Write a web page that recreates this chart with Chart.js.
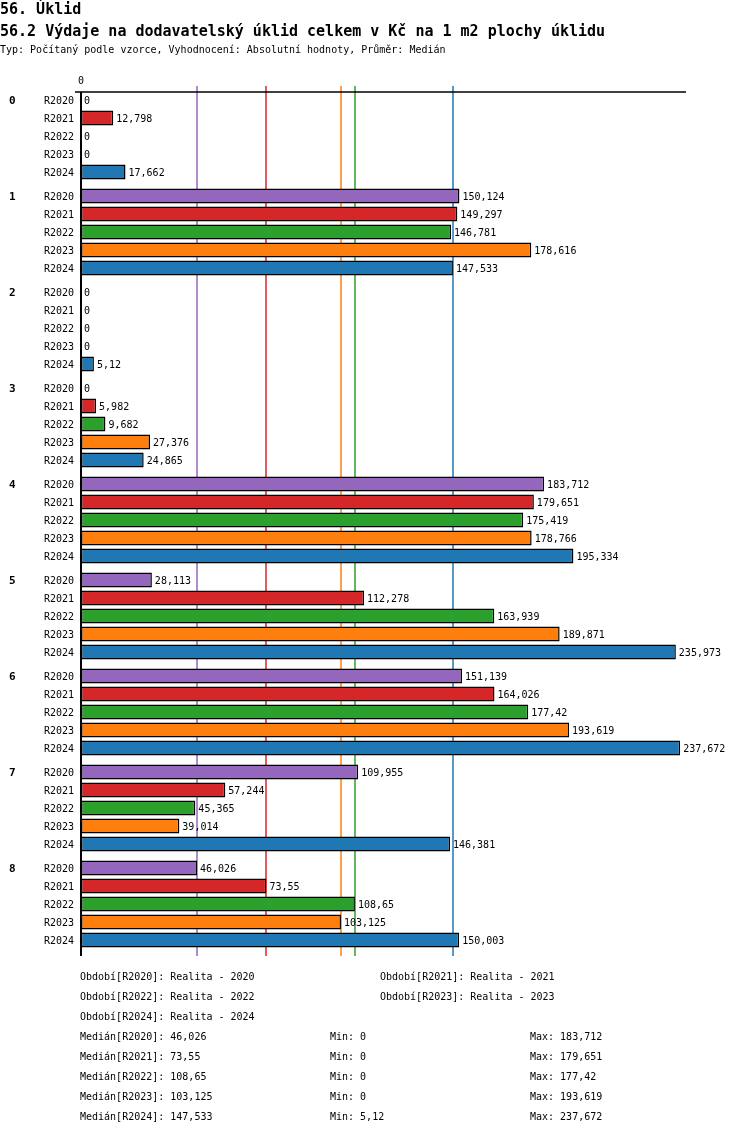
<!DOCTYPE html>
<html>
<head>
<meta charset="utf-8">
<script src="https://cdn.jsdelivr.net/npm/chart.js@4.4.1/dist/chart.umd.min.js"></script>
<style>
  body { margin: 0; background: #fff; font-family: "DejaVu Sans Mono", monospace; color: #000; }
  #wrap { position: relative; width: 750px; height: 1136px; }
  #chart { position: absolute; left: 0; top: 0; }
  .t { position: absolute; white-space: pre; }
  .h1 { left: 0; top: 0; font-size: 15px; font-weight: bold; }
  .h2 { left: 0; top: 22px; font-size: 15px; font-weight: bold; }
  .sub { left: 0; top: 44px; font-size: 10px; }
  .f { font-size: 10px; }
</style>
</head>
<body>
<div id="wrap">
  <canvas id="chart" width="750" height="1136"></canvas>
  <div class="t h1">56. Úklid</div>
  <div class="t h2">56.2 Výdaje na dodavatelský úklid celkem v Kč na 1 m2 plochy úklidu</div>
  <div class="t sub">Typ: Počítaný podle vzorce, Vyhodnocení: Absolutní hodnoty, Průměr: Medián</div>
  <div id="footer"></div>
</div>
<script>
// ======================================================
// DATA
// ======================================================

const groups = ["0", "1", "2", "3", "4", "5", "6", "7", "8"];
const periods = ["R2020", "R2021", "R2022", "R2023", "R2024"];
const periodNames = ["Realita - 2020", "Realita - 2021", "Realita - 2022", "Realita - 2023", "Realita - 2024"];
const periodColors = ["#9467bd", "#d62728", "#2ca02c", "#ff7f0e", "#1f77b4"];

const r2020 = [0, 150.124, 0, 0, 183.712, 28.113, 151.139, 109.955, 46.026];
const r2021 = [12.798, 149.297, 0, 5.982, 179.651, 112.278, 164.026, 57.244, 73.55];
const r2022 = [0, 146.781, 0, 9.682, 175.419, 163.939, 177.42, 45.365, 108.65];
const r2023 = [0, 178.616, 0, 27.376, 178.766, 189.871, 193.619, 39.014, 103.125];
const r2024 = [17.662, 147.533, 5.12, 24.865, 195.334, 235.973, 237.672, 146.381, 150.003];

const medians = [46.026, 73.55, 108.65, 103.125, 147.533];
const mins = [0, 0, 0, 0, 5.12];
const maxs = [183.712, 179.651, 177.42, 193.619, 237.672];

const xTicks = [0];
const X_MAX = 240;

const series = [r2020, r2021, r2022, r2023, r2024];

function fmt(v) {
  return String(v).replace(".", ",");
}

// ======================================================
// PLUGINS
// ======================================================

const FONT = '10px "DejaVu Sans Mono", monospace';

const medianLines = {
  id: "medianLines",
  beforeDatasetsDraw(chart) {
    const { ctx, chartArea, scales } = chart;
    ctx.save();
    ctx.lineWidth = 1.5;
    medians.forEach((m, i) => {
      const x = Math.round(scales.x.getPixelForValue(m));
      ctx.strokeStyle = periodColors[i];
      ctx.beginPath();
      ctx.moveTo(x, chartArea.top - 2);
      ctx.lineTo(x, chartArea.bottom + 4);
      ctx.stroke();
    });
    ctx.restore();
  },
};

const labelsPlugin = {
  id: "labelsPlugin",
  afterDatasetsDraw(chart) {
    const { ctx, chartArea, scales } = chart;
    const x0 = scales.x.getPixelForValue(0);
    ctx.save();

    // axes
    ctx.strokeStyle = "#000";
    ctx.lineWidth = 1.5;
    ctx.beginPath();
    ctx.moveTo(x0 - 6, chartArea.top + 4);
    ctx.lineTo(scales.x.getPixelForValue(X_MAX), chartArea.top + 4);
    ctx.stroke();
    ctx.lineWidth = 2;
    ctx.beginPath();
    ctx.moveTo(x0, chartArea.top + 4);
    ctx.lineTo(x0, chartArea.bottom + 4);
    ctx.stroke();

    ctx.font = FONT;
    ctx.fillStyle = "#000";
    ctx.textBaseline = "middle";

    // top tick labels
    ctx.textAlign = "center";
    xTicks.forEach((t) => {
      ctx.fillText(String(t), scales.x.getPixelForValue(t), chartArea.top - 7);
    });

    // bar labels + period labels
    chart.data.datasets.forEach((ds, di) => {
      const meta = chart.getDatasetMeta(di);
      meta.data.forEach((bar, i) => {
        const v = ds.data[i];
        ctx.textAlign = "left";
        ctx.fillText(fmt(v), (v > 0 ? bar.x + 3 : x0 + 3), bar.y + 1);
        ctx.textAlign = "right";
        ctx.fillText(periods[di], x0 - 7, bar.y + 1);
      });
    });

    // group labels
    ctx.font = 'bold 11px "DejaVu Sans Mono", monospace';
    ctx.textAlign = "left";
    const first = chart.getDatasetMeta(0);
    groups.forEach((g, i) => {
      ctx.fillText(g, 9, first.data[i].y + 1);
    });

    ctx.restore();
  },
};

// ======================================================
// CHART
// ======================================================

const chart = new Chart(document.getElementById("chart"), {
  type: "bar",
  data: {
    labels: groups,
    datasets: series.map((values, i) => ({
      label: periods[i],
      data: values,
      backgroundColor: periodColors[i],
      borderColor: "#000",
      borderWidth: (c) => (c.raw > 0 ? 1.5 : 0),
      borderSkipped: false,
      categoryPercentage: 90 / 96,
      barPercentage: 15 / 18,
    })),
  },
  options: {
    indexAxis: "y",
    responsive: false,
    animation: false,
    layout: {
      padding: { left: 81, right: 64, top: 88, bottom: 184 },
    },
    plugins: {
      legend: { display: false },
      tooltip: { enabled: false },
    },
    scales: {
      x: { display: false, min: 0, max: X_MAX },
      y: { display: false },
    },
  },
  plugins: [medianLines, labelsPlugin],
});

// ======================================================
// FOOTER
// ======================================================

const footer = document.getElementById("footer");

function addText(text, x, y) {
  const el = document.createElement("div");
  el.className = "t f";
  el.style.left = x + "px";
  el.style.top = y + "px";
  el.textContent = text;
  footer.appendChild(el);
}

periods.forEach((p, i) => {
  const col = i % 2;
  const row = Math.floor(i / 2);
  addText(`Období[${p}]: ${periodNames[i]}`, 80 + col * 300, 971 + row * 20);
});

periods.forEach((p, i) => {
  const y = 1031 + i * 20;
  addText(`Medián[${p}]: ${fmt(medians[i])}`, 80, y);
  addText(`Min: ${fmt(mins[i])}`, 330, y);
  addText(`Max: ${fmt(maxs[i])}`, 530, y);
});
</script>
</body>
</html>
